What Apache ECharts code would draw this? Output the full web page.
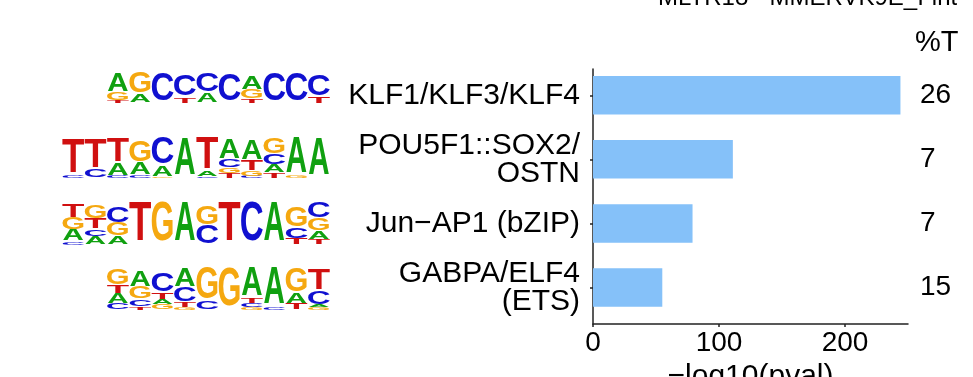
<!DOCTYPE html>
<html>
<head>
<meta charset="utf-8">
<script src="https://cdn.jsdelivr.net/npm/echarts@6/dist/echarts.min.js"></script>
<style>
html,body{margin:0;padding:0;background:#fff;}
#chart{width:973px;height:377px;}
</style>
</head>
<body>
<div id="chart"></div>
<script>
// ---------- data ----------
const motifs = ['KLF1/KLF3/KLF4', 'POU5F1::SOX2/\nOSTN', 'Jun\u2212AP1 (bZIP)', 'GABPA/ELF4\n(ETS)'];
const negLog10P = [244, 111, 79, 55];
const pctT = ['26', '7', '7', '15'];
const xTicks = [0, 100, 200];
const titleText = 'MLTR18 - MMERVK9E_I-int';
const pctLabel = '%T';
const xName = '\u2212log10(pval)';

// sequence logos: per column, letters bottom -> top with heights (bits)
const logoKLF = [
  [['T',.18],['G',.49],['A',1.22]],
  [['A',.55],['G',1.45]],
  [['C',1.9]],
  [['T',.35],['C',1.45]],
  [['A',.65],['C',1.2]],
  [['C',1.8]],
  [['T',.25],['G',.6],['A',.9]],
  [['C',1.9]],
  [['C',1.9]],
  [['T',.4],['C',1.4]]
];
const logoPOU = [
  [['C',.1],['T',1.7]],
  [['C',.4],['T',1.45]],
  [['C',.1],['A',.6],['T',1.15]],
  [['C',.15],['A',.55],['G',1.05]],
  [['G',.08],['A',.5],['C',1.3]],
  [['A',1.8]],
  [['C',.08],['A',.25],['T',1.55]],
  [['T',.25],['G',.25],['C',.4],['A',1.0]],
  [['C',.1],['G',.25],['T',.5],['A',1.0]],
  [['T',.25],['A',.4],['C',.5],['G',.75]],
  [['G',.1],['A',1.75]],
  [['A',1.85]]
];
const logoJUN = [
  [['C',.15],['A',.58],['G',.58],['T',.63]],
  [['A',.4],['C',.35],['T',.5],['G',.65]],
  [['A',.4],['G',.65],['C',.75]],
  [['T',1.95]],
  [['G',1.95]],
  [['A',1.95]],
  [['C',.9],['G',.9]],
  [['T',1.95]],
  [['C',1.95]],
  [['A',1.95]],
  [['T',.3],['C',.5],['G',1.0]],
  [['T',.25],['A',.4],['G',.6],['C',.8]]
];
const logoGABPA = [
  [['C',.3],['A',.5],['T',.4],['G',.75]],
  [['T',.15],['C',.35],['G',.6],['A',.8]],
  [['G',.25],['A',.25],['T',.3],['C',.9]],
  [['G',.1],['T',.25],['C',.7],['A',.9]],
  [['C',.4],['G',1.55]],
  [['G',1.9]],
  [['G',.12],['C',.2],['T',.25],['A',1.4]],
  [['C',.15],['A',1.85]],
  [['T',.3],['A',.5],['G',1.15]],
  [['G',.12],['A',.12],['C',.65],['T',1.05]]
];
const logos = [logoKLF, logoPOU, logoJUN, logoGABPA];

// ---------- layout / style ----------
const logoStartCol = [2, 0, 0, 2];
const logoBaseOffset = [8, 19, 21.5, 22.5];   // px below row centre
const logoPxPerBit = [15, 20.5, 20.5, 20.5];
const LETTERS = ['A','C','G','T'];
const letterColor = {A:'#10A010', C:'#1010D0', G:'#F5A810', T:'#D01010'};
const letterInk = {A:720, C:640, G:690, T:580};
const FS = 100;
const FONT = 'Liberation Sans, Arial, sans-serif';

const logoData = [];
logos.forEach((cols, r) => {
  cols.forEach((stack, c) => {
    let y = 0;
    stack.forEach(([L, h]) => {
      logoData.push([c + logoStartCol[r], r, y, y + h, LETTERS.indexOf(L)]);
      y += h;
    });
  });
});

const chart = echarts.init(document.getElementById('chart'), null, {renderer: 'canvas'});

chart.setOption({
  animation: false,
  backgroundColor: '#ffffff',
  textStyle: {fontFamily: FONT},
  grid: [
    {left: 593, right: 65, top: 63.2, bottom: 57.4, containLabel: false, outerBoundsMode: 'none'},
    {left: 593, right: 65, top: 69, bottom: 53, containLabel: false, outerBoundsMode: 'none'},
    {left: 62, width: 268, top: 63.2, bottom: 57.4, containLabel: false, outerBoundsMode: 'none'}
  ],
  xAxis: [
    {gridIndex: 0, type: 'value', min: 0, max: 250, show: false},
    {gridIndex: 1, type: 'value', min: 0, max: 250, interval: 100,
     axisLine: {show: true, lineStyle: {color: '#222', width: 1.5}},
     axisTick: {show: true, length: 3, customValues: xTicks, lineStyle: {color: '#222', width: 1.5}},
     axisLabel: {show: true, customValues: xTicks, fontSize: 28, color: '#000', margin: 5, fontFamily: FONT},
     splitLine: {show: false},
     name: xName, nameLocation: 'middle', nameGap: 38,
     nameTextStyle: {fontSize: 30, color: '#000', fontFamily: FONT}},
    {gridIndex: 2, type: 'value', min: 0, max: 12, show: false}
  ],
  yAxis: [
    {gridIndex: 0, type: 'category', data: motifs, inverse: true,
     axisLine: {show: false},
     axisTick: {show: true, alignWithLabel: true, length: 3, lineStyle: {color: '#222', width: 1.5}},
     axisLabel: {fontSize: 30, lineHeight: 28, color: '#000', margin: 13, fontFamily: FONT}},
    {gridIndex: 0, type: 'category', data: motifs, inverse: true, position: 'right',
     axisLine: {show: false}, axisTick: {show: false},
     axisLabel: {fontSize: 28, color: '#000', margin: 12, align: 'left', padding: [0,0,7,0],
                 fontFamily: FONT, formatter: (v, i) => pctT[i]}},
    {gridIndex: 1, type: 'value', min: 0, max: 1,
     axisLine: {show: true, lineStyle: {color: '#222', width: 1.5}},
     axisTick: {show: false}, axisLabel: {show: false}, splitLine: {show: false}},
    {gridIndex: 2, type: 'category', data: motifs, inverse: true, show: false}
  ],
  series: [
    {type: 'bar', xAxisIndex: 0, yAxisIndex: 0, data: negLog10P, barWidth: '60%',
     itemStyle: {color: '#85C1F9'}, silent: true},
    {type: 'custom', xAxisIndex: 2, yAxisIndex: 3, data: logoData, clip: false, silent: true,
     encode: {x: 0, y: 1},
     renderItem: function (params, api) {
       const col = api.value(0), r = api.value(1);
       const cx = api.coord([col + 0.5, r])[0];
       const cy = api.coord([col, r])[1];
       const w = api.size([1, 0])[0];
       const ppb = logoPxPerBit[r];
       const base = cy + logoBaseOffset[r];
       const y0 = api.value(2), y1 = api.value(3);
       const h = (y1 - y0) * ppb;
       const mid = base - (y0 + y1) / 2 * ppb;
       const L = LETTERS[api.value(4)];
       return {
         type: 'text', x: cx, y: mid,
         scaleX: (w * 0.95) / (letterInk[L] * FS / 1000),
         scaleY: Math.max(h, 0.01) / (0.72 * FS),
         style: {text: L, fontSize: FS, fontWeight: 'bold', fontFamily: FONT,
                 fill: letterColor[L], align: 'center', verticalAlign: 'middle'}
       };
     }}
  ],
  graphic: [
    {type: 'text', x: 658, y: -1.8, silent: true,
     style: {text: titleText, fontSize: 24, fontFamily: FONT, fill: '#000', align: 'left', verticalAlign: 'middle'}},
    {type: 'text', x: 915, y: 43, silent: true,
     style: {text: pctLabel, fontSize: 29, fontFamily: FONT, fill: '#000', align: 'left', verticalAlign: 'middle'}}
  ]
});
</script>
</body>
</html>
